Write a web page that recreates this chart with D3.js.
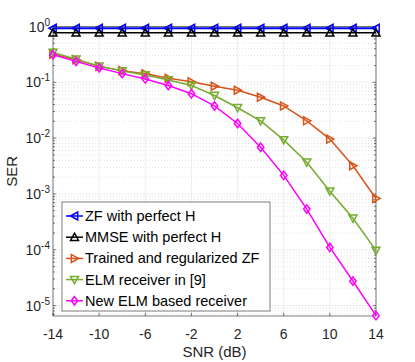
<!DOCTYPE html>
<html><head><meta charset="utf-8">
<script src="https://cdn.jsdelivr.net/npm/d3@7"></script>
<style>
html,body{margin:0;padding:0;background:#fff;}
svg{display:block;font-family:"Liberation Sans",Arial,Helvetica,sans-serif;}
</style></head>
<body>
<svg id="chart" width="415" height="362"></svg>
<script>
const snr = [-14,-12,-10,-8,-6,-4,-2,0,2,4,6,8,10,12,14];
const xTicks = [-14,-10,-6,-2,2,6,10,14];
const yTickExps = [0,-1,-2,-3,-4,-5];
const serZF    = [0.93,0.93,0.93,0.93,0.93,0.93,0.93,0.93,0.93,0.93,0.93,0.93,0.93,0.93,0.93];
const serMMSE  = [0.77,0.77,0.77,0.77,0.77,0.77,0.77,0.77,0.77,0.77,0.77,0.77,0.77,0.77,0.77];
const serTrain = [0.32,0.254,0.193,0.162,0.142,0.118,0.102,0.085,0.072,0.054,0.0377,0.0204,0.0096,0.0032,0.00083];
const serELM   = [0.343,0.26,0.195,0.16,0.135,0.11,0.088,0.058,0.035,0.0204,0.0093,0.0037,0.00112,0.000366,0.0000975];
const serNew   = [0.311,0.237,0.181,0.143,0.115,0.0877,0.0625,0.0377,0.0183,0.00687,0.00215,0.000536,0.00011,0.0000275,0.0000066];
const seriesNames = ["ZF with perfect H","MMSE with perfect H","Trained and regularized ZF","ELM receiver in [9]","New ELM based receiver"];
const seriesColors = ["#0000ff","#000000","#D95319","#77AC30","#ff00ff"];
const seriesMarkers = ["left","up","right","down","diamond"];
const seriesData = [serZF, serMMSE, serTrain, serELM, serNew];
const yMin = 6.5e-6;

const svg = d3.select("#chart");
const L = 53, R = 376, T = 26.5, B = 316;
const x = d3.scaleLinear().domain([-14,14]).range([L,R]);
const y = d3.scaleLog().domain([yMin,1]).range([B,T]);
const axisCol = "#262626";

// grid: minor y
const minorVals = [];
for (let e=-6;e<0;e++) for (let m=2;m<=9;m++){ const v=m*Math.pow(10,e); if(v>=yMin && v<1) minorVals.push(v); }
svg.append("g").selectAll("line").data(minorVals).join("line")
  .attr("x1",L).attr("x2",R).attr("y1",d=>y(d)).attr("y2",d=>y(d))
  .attr("stroke","#cfcfcf").attr("stroke-width",0.6).attr("stroke-dasharray","1,2");
// grid major y
svg.append("g").selectAll("line").data(yTickExps.map(e=>Math.pow(10,e))).join("line")
  .attr("x1",L).attr("x2",R).attr("y1",d=>y(d)).attr("y2",d=>y(d))
  .attr("stroke","#e3e3e3").attr("stroke-width",0.6);
// grid major x
svg.append("g").selectAll("line").data(xTicks).join("line")
  .attr("x1",d=>x(d)).attr("x2",d=>x(d)).attr("y1",T).attr("y2",B)
  .attr("stroke","#e3e3e3").attr("stroke-width",0.6);

// axes box
svg.append("rect").attr("x",L).attr("y",T).attr("width",R-L).attr("height",B-T)
  .attr("fill","none").attr("stroke",axisCol).attr("stroke-width",0.6);

// ticks (inside, both sides)
const tk = 3.2, tkm = 2;
const tg = svg.append("g").attr("stroke",axisCol).attr("stroke-width",0.6);
xTicks.forEach(v=>{
  tg.append("line").attr("x1",x(v)).attr("x2",x(v)).attr("y1",B).attr("y2",B-tk);
  tg.append("line").attr("x1",x(v)).attr("x2",x(v)).attr("y1",T).attr("y2",T+tk);
});
yTickExps.forEach(e=>{
  const yy=y(Math.pow(10,e));
  tg.append("line").attr("x1",L).attr("x2",L+tk).attr("y1",yy).attr("y2",yy);
  tg.append("line").attr("x1",R).attr("x2",R-tk).attr("y1",yy).attr("y2",yy);
});
minorVals.forEach(v=>{
  const yy=y(v);
  tg.append("line").attr("x1",L).attr("x2",L+tkm).attr("y1",yy).attr("y2",yy);
  tg.append("line").attr("x1",R).attr("x2",R-tkm).attr("y1",yy).attr("y2",yy);
});

// tick labels
svg.append("g").selectAll("text").data(xTicks).join("text")
  .attr("x",d=>x(d)).attr("y",339).attr("text-anchor","middle")
  .attr("font-size",14).attr("fill",axisCol).text(d=>d);
const yl = svg.append("g");
yTickExps.forEach(e=>{
  const t = yl.append("text").attr("x",50).attr("y",y(Math.pow(10,e))+5)
    .attr("text-anchor","end").attr("font-size",14).attr("fill",axisCol);
  t.append("tspan").text("10");
  t.append("tspan").attr("dy",-6).attr("font-size",10).text(e===0?"0":"-"+(-e));
});
svg.append("text").attr("x",(L+R)/2).attr("y",357).attr("text-anchor","middle")
  .attr("font-size",15).attr("fill",axisCol).text("SNR (dB)");
svg.append("text").attr("transform",`translate(17,${(T+B)/2}) rotate(-90)`)
  .attr("text-anchor","middle").attr("font-size",15).attr("fill",axisCol).text("SER");

function markerPath(type, s){
  const h=s;
  switch(type){
    case "left": return `M${-h},0 L${h*0.8},${-h} L${h*0.8},${h} Z`;
    case "right": return `M${h},0 L${-h*0.8},${-h} L${-h*0.8},${h} Z`;
    case "up": return `M0,${-h} L${h},${h*0.8} L${-h},${h*0.8} Z`;
    case "down": return `M0,${h} L${h},${-h*0.8} L${-h},${-h*0.8} Z`;
    case "diamond": return `M0,${-h*1.05} L${h*0.8},0 L0,${h*1.05} L${-h*0.8},0 Z`;
  }
}
const line = d3.line().x((d,i)=>x(snr[i])).y(d=>y(d));
seriesData.forEach((data,k)=>{
  const g = svg.append("g");
  g.append("path").datum(data).attr("d",line).attr("fill","none")
    .attr("stroke",seriesColors[k]).attr("stroke-width",k===0?2:1.5);
  g.selectAll("path.m").data(data).join("path").attr("class","m")
    .attr("transform",(d,i)=>`translate(${x(snr[i])},${y(d)})`)
    .attr("d",markerPath(seriesMarkers[k],4)).attr("fill","none")
    .attr("stroke",seriesColors[k]).attr("stroke-width",1.5);
});

// legend
const lg = svg.append("g");
lg.append("rect").attr("x",62).attr("y",202).attr("width",208).attr("height",109)
  .attr("fill","#fff").attr("stroke",axisCol).attr("stroke-width",0.6);
seriesNames.forEach((name,k)=>{
  const yy = 216 + k*21.2;
  lg.append("line").attr("x1",66).attr("x2",83).attr("y1",yy).attr("y2",yy)
    .attr("stroke",seriesColors[k]).attr("stroke-width",1.5);
  lg.append("path").attr("transform",`translate(74.5,${yy})`).attr("d",markerPath(seriesMarkers[k],4))
    .attr("fill","none").attr("stroke",seriesColors[k]).attr("stroke-width",1.5);
  lg.append("text").attr("x",85).attr("y",yy+5).attr("font-size",14.5).attr("fill","#000").text(name);
});
</script>
</body></html>
